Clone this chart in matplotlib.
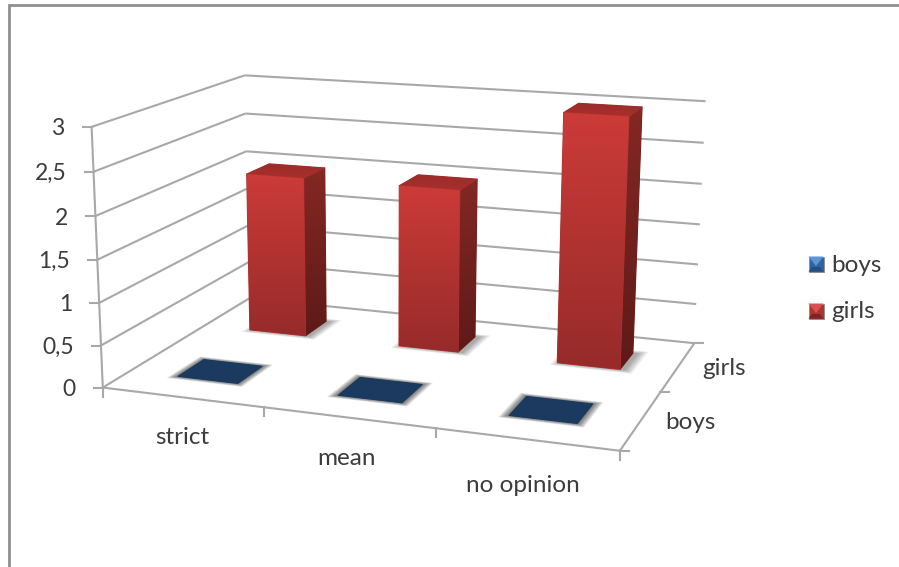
import numpy as np
import matplotlib
matplotlib.use('Agg')
import matplotlib.pyplot as plt
from matplotlib.patches import Polygon

categories = ['strict', 'mean', 'no opinion']
series = ['boys', 'girls']
boys = [0, 0, 0]
girls = [2, 2, 3]
value_ticks = [0, 0.5, 1, 1.5, 2, 2.5, 3]
value_labels = ['0', '0,5', '1', '1,5', '2', '2,5', '3']

plt.rcParams['font.family'] = ['Lato', 'DejaVu Sans']
GRID = '#a8a8a8'
TEXT = '#3c3c3c'

# camera fitted on the corners of the plot box: (category, series, value) -> pixel
box = np.array([[0, 0, 0], [0, 0, 3], [0, 2, 0], [0, 2, 3], [3, 2, 0], [3, 2, 3],
                [3, 0, 0], [1, 0, 0], [3, 1, 0], [0, 2, 2], [3, 2, 2]], float)
pix = np.array([[103.3, 386.7], [91.7, 127.7], [249.5, 300], [244.3, 75], [693.5, 342.7],
                [705.7, 101.7], [620, 451], [262.3, 407.3], [661.7, 391.7],
                [246.7, 150], [701.7, 184]], float)
rows, rhs = [], []
for (x, y, z), (u, v) in zip(box, pix):
    rows.append([x, y, z, 1, 0, 0, 0, 0, -u * x, -u * y, -u * z])
    rows.append([0, 0, 0, 0, x, y, z, 1, -v * x, -v * y, -v * z])
    rhs += [u, v]
cam = np.linalg.lstsq(np.array(rows), np.array(rhs), rcond=None)[0]
cam = np.append(cam, 1).reshape(3, 4)


def project(x, y, z):
    h = cam @ np.array([x, y, z, 1.0])
    return h[0] / h[2], h[1] / h[2]


def face(ax, corners, top, bottom, zorder):
    pts = np.array([project(*c) for c in corners])
    c0, c1 = matplotlib.colors.to_rgb(top), matplotlib.colors.to_rgb(bottom)
    # underlay closes the seams and softens the corners
    mid = tuple((a + b) / 2 for a, b in zip(c0, c1))
    ax.add_patch(Polygon(pts, fc=mid, ec=mid, lw=0.8, joinstyle='round', zorder=zorder - 0.05))
    poly = Polygon(pts, closed=True, transform=ax.transData, fc='none', ec='none')
    ax.add_patch(poly)
    ramp = np.linspace(c0, c1, 256).reshape(256, 1, 3)
    im = ax.imshow(ramp, extent=(pts[:, 0].min(), pts[:, 0].max(), pts[:, 1].max(), pts[:, 1].min()),
                   aspect='auto', zorder=zorder, interpolation='bilinear')
    im.set_clip_path(poly)


def floor_shadow(ax, x0, x1, y0, y1, spread, shift, strength, zorder):
    n = 12
    for i in range(n, 0, -1):
        e = spread * i / n
        pts = [project(x0 - e + shift, y0 - e, 0), project(x1 + e + shift, y0 - e, 0),
               project(x1 + e + shift, y1 + e, 0), project(x0 - e + shift, y1 + e, 0)]
        ax.add_patch(Polygon(pts, fc='black', ec='none', alpha=strength, zorder=zorder))


def bar(ax, xc, yc, value, cols, zorder):
    x0, x1, y0, y1 = xc - 0.19, xc + 0.19, yc - 0.17, yc + 0.17
    floor_shadow(ax, x0, x1, y0, y1, cols['spread'], cols['shift'], cols['strength'], zorder)
    if value > 0:
        face(ax, [(x1, y0, value), (x1, y1, value), (x1, y1, 0), (x1, y0, 0)],
             cols['side'][0], cols['side'][1], zorder + 0.1)
    face(ax, [(x0, y0, value), (x1, y0, value), (x1, y1, value), (x0, y1, value)],
         cols['top'][0], cols['top'][1], zorder + 0.2)
    if value > 0:
        face(ax, [(x0, y0, value), (x1, y0, value), (x1, y0, 0), (x0, y0, 0)],
             cols['front'][0], cols['front'][1], zorder + 0.3)


def line3(ax, a, b, lw=1.5):
    pa, pb = project(*a), project(*b)
    ax.plot([pa[0], pb[0]], [pa[1], pb[1]], color=GRID, lw=lw, solid_capstyle='butt', zorder=1)


red = {'front': ('#cc3b38', '#962b2a'), 'side': ('#842823', '#5e1a18'),
       'top': ('#9c2c2a', '#a82f2c'), 'spread': 0.06, 'shift': 0.025, 'strength': 0.03}
blue = {'front': ('#1b3a5f', '#1b3a5f'), 'side': ('#1b3a5f', '#1b3a5f'),
        'top': ('#1b3a5f', '#1b3a5f'), 'spread': 0.05, 'shift': 0.0, 'strength': 0.06}

fig = plt.figure(figsize=(8.99, 5.67), dpi=100)
ax = fig.add_axes([0, 0, 1, 1])

# walls and floor
for z in value_ticks:
    line3(ax, (0, 0, z), (0, 2, z))
    line3(ax, (0, 2, z), (3, 2, z))
line3(ax, (0, 0, 0), (0, 0, 3))
line3(ax, (0, 0, 0), (3, 0, 0))
line3(ax, (3, 0, 0), (3, 2, 0))

# ticks and labels
for z, lab in zip(value_ticks, value_labels):
    px, py = project(0, 0, z)
    ax.plot([px - 9, px], [py, py], color=GRID, lw=1.5, zorder=1)
    ax.text(px - 27, py + 2, lab, ha='right', va='center', fontsize=16.5, color=TEXT)
for i in range(len(categories) + 1):
    px, py = project(i, 0, 0)
    ax.plot([px, px], [py, py + 9], color=GRID, lw=1.5, zorder=1)
for i in range(len(series) + 1):
    px, py = project(3, i, 0)
    ax.plot([px, px + 9], [py, py], color=GRID, lw=1.5, zorder=1)
for i, (lab, dx, dy) in enumerate(zip(categories, [0, -2, -3], [40, 41, 46])):
    px, py = project(i + 0.5, 0, 0)
    ax.text(px + dx, py + dy, lab, ha='center', va='center', fontsize=17.5, color=TEXT)
for i, lab in enumerate(series):
    px, py = project(3, i + 0.5, 0)
    ax.text(px + 24, py + 2, lab, ha='left', va='center', fontsize=17.5, color=TEXT)

# bars, back row first
for i, v in enumerate(girls):
    bar(ax, i + 0.5, 1.5, v, red, 3 + i)
for i, v in enumerate(boys):
    bar(ax, i + 0.5, 0.5, v, blue, 8 + i)

# legend
for lab, ly, base, light, dark in [(series[0], 264, '#2f64a0', '#5b95d6', '#24507f'),
                                   (series[1], 311, '#ad3431', '#d8514e', '#7e2523')]:
    s = 7.5
    lx = 816
    ax.add_patch(Polygon([(lx - s, ly - s), (lx + s, ly - s), (lx + s, ly + s), (lx - s, ly + s)],
                         fc=base, ec='#8d8d8d', lw=0.6, zorder=5))
    ax.add_patch(Polygon([(lx - s, ly - s), (lx + s, ly - s), (lx, ly + 2)], fc=light, ec='none', zorder=5))
    ax.add_patch(Polygon([(lx - s, ly + s), (lx + s, ly + s), (lx + 4, ly + 3), (lx - 4, ly + 3)],
                         fc=dark, ec='none', zorder=5))
    ax.text(831, ly + 1, lab, ha='left', va='center', fontsize=17.5, color=TEXT)

# chart frame
ax.plot([8.5, 8.5, 899], [567, 5, 5], color='#8f8f8f', lw=2, solid_joinstyle='miter', zorder=20)

ax.set_xlim(0, 899)
ax.set_ylim(567, 0)
ax.axis('off')
fig.savefig('out.png', dpi=100)
